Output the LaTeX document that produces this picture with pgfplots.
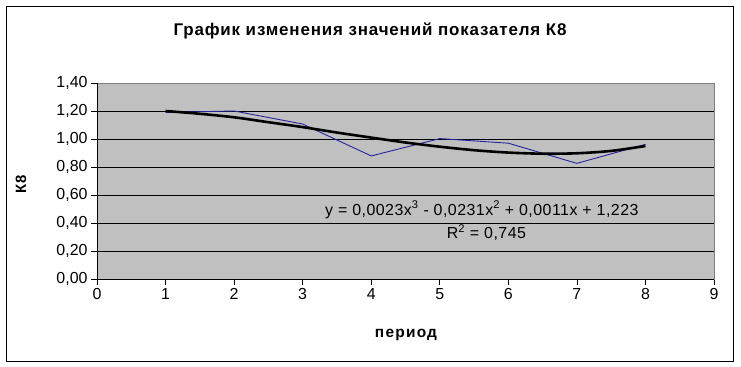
\documentclass[border=0pt]{standalone}
\usepackage{fontspec}
\setmainfont{Liberation Sans}
\usepackage{pgfplots}
\pgfplotsset{compat=1.18}
\definecolor{plotgray}{HTML}{C0C0C0}
\definecolor{frgray}{HTML}{808080}
\definecolor{serblue}{HTML}{2424A0}
\begin{document}
\begin{tikzpicture}
\path[fill=white] (0bp,0bp) rectangle (741bp,367bp);
\draw[black, line width=0.9bp] (6bp,6bp) rectangle (733bp,361bp);
\begin{axis}[
  at={(97bp,88bp)}, anchor=south west,
  scale only axis, width=617bp, height=196bp,
  xmin=0, xmax=9, ymin=0, ymax=1.4,
  xtick={0,1,2,3,4,5,6,7,8,9},
  ytick={0,0.2,0.4,0.6,0.8,1.0,1.2,1.4},
  axis background/.style={fill=plotgray},
  axis line style={frgray, line width=0.8bp},
  ymajorgrids, major grid style={black, line width=0.7bp},
  tick align=outside, xtick pos=bottom, ytick pos=left,
  major tick length=6bp,
  tick style={black, line width=0.7bp},
  /pgf/number format/assume math mode=true,
  yticklabel style={/pgf/number format/.cd, use comma, fixed, fixed zerofill, precision=2},
  xticklabel style={/pgf/number format/.cd, use comma},
  tick label style={font=\fontsize{16}{18}\selectfont},
  clip=false,
]
\addplot[serblue, line width=0.9bp] coordinates {
 (1,1.19) (2,1.20) (3,1.107) (4,0.879) (5,1.003) (6,0.970) (7,0.826) (8,0.962)
};
\addplot[black, line width=2.6bp, smooth] coordinates {
 (1,1.200) (1.5,1.180) (2,1.155) (2.5,1.120) (3,1.085) (3.5,1.046) (4,1.010)
 (4.5,0.975) (5,0.945) (5.5,0.920) (6,0.903) (6.5,0.895) (7,0.898) (7.5,0.915) (8,0.950)
};
\draw[black, line width=0.9bp] (rel axis cs:0,1) -- (rel axis cs:0,0) -- (rel axis cs:1,0);
\node[font=\fontsize{16}{18}\selectfont\addfontfeatures{LetterSpace=3}, anchor=base west, inner sep=0pt] at (axis cs:3.326,0.457) {y = 0,0023x\textsuperscript{3} - 0,0231x\textsuperscript{2} + 0,0011x + 1,223};
\node[font=\fontsize{16}{18}\selectfont\addfontfeatures{LetterSpace=3}, anchor=base west, inner sep=0pt] at (axis cs:5.10,0.291) {R\textsuperscript{2} = 0,745};
\end{axis}
\node[font=\fontsize{17}{20}\selectfont\bfseries\addfontfeatures{LetterSpace=5}, anchor=base] at (370bp,331.3bp) {График изменения значений показателя К8};
\node[font=\fontsize{15}{17}\selectfont\bfseries\addfontfeatures{LetterSpace=4}, rotate=90] at (21bp,183bp) {К8};
\node[font=\fontsize{15.5}{17}\selectfont\bfseries\addfontfeatures{LetterSpace=8}, anchor=base] at (406bp,30bp) {период};
\end{tikzpicture}
\end{document}
